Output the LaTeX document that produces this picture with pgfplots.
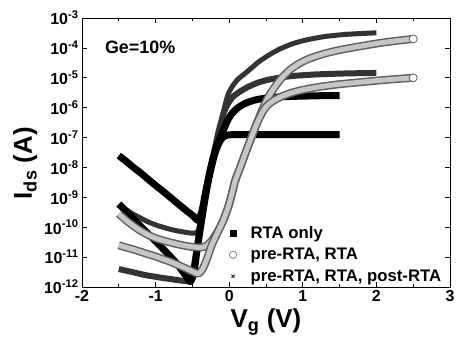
\documentclass[border=0pt]{standalone}
\usepackage{fontspec}
\setmainfont{Liberation Sans}
\usepackage{pgfplots}
\usepackage{pgfplotstable}
\pgfplotsset{compat=1.18}

% RTA only, lower curve
\pgfplotstableread{
x y
-1.5 6e-10
-1.4 3.4e-10
-1.3 1.9e-10
-1.2 1.05e-10
-1.1 6e-11
-1.0 3.4e-11
-0.9 1.9e-11
-0.8 1.05e-11
-0.7 5.5e-12
-0.6 2.6e-12
-0.53 1.5e-12
-0.48 3e-12
-0.44 1.5e-11
-0.39 1e-10
-0.34 6e-10
-0.29 3e-9
-0.24 1.1e-8
-0.19 3.2e-8
-0.14 6.5e-8
-0.09 1e-7
-0.03 1.2e-7
0.05 1.25e-7
0.3 1.25e-7
0.7 1.25e-7
1.1 1.25e-7
1.5 1.25e-7
}\SA
% RTA only, upper curve
\pgfplotstableread{
x y
-1.5 2.5e-8
-1.4 1.6e-8
-1.3 1.0e-8
-1.2 6.5e-9
-1.1 4.0e-9
-1.0 2.5e-9
-0.9 1.6e-9
-0.8 1.0e-9
-0.7 6.2e-10
-0.6 3.9e-10
-0.5 2.5e-10
-0.42 1.7e-10
-0.37 3.5e-10
-0.32 1.5e-9
-0.27 6e-9
-0.22 2e-8
-0.17 5e-8
-0.12 1e-7
-0.07 2e-7
-0.02 3.8e-7
0.04 6.5e-7
0.12 1e-6
0.22 1.4e-6
0.35 1.8e-6
0.5 2.1e-6
0.7 2.3e-6
0.9 2.4e-6
1.2 2.5e-6
1.5 2.55e-6
}\SB
% pre-RTA, RTA, post-RTA, upper
\pgfplotstableread{
x y
-1.5 5.5e-10
-1.4 3.8e-10
-1.3 2.7e-10
-1.2 2e-10
-1.1 1.5e-10
-1.0 1.2e-10
-0.9 1e-10
-0.8 8.5e-11
-0.7 7.5e-11
-0.6 6.8e-11
-0.5 6.3e-11
-0.43 7e-11
-0.38 1.8e-10
-0.33 8e-10
-0.28 3.5e-9
-0.23 1.4e-8
-0.18 5e-8
-0.13 1.8e-7
-0.09 5.5e-7
-0.05 1.4e-6
-0.01 3e-6
0.05 5.5e-6
0.12 9e-6
0.2 1.3e-5
0.28 1.9e-5
0.4 3.4e-5
0.55 6e-5
0.7 9.5e-5
0.87 1.4e-4
1.05 1.85e-4
1.3 2.4e-4
1.6 2.85e-4
2.0 3.2e-4
}\XA
% pre-RTA, RTA, post-RTA, lower
\pgfplotstableread{
x y
-1.5 4e-12
-1.4 3.5e-12
-1.3 3.1e-12
-1.2 2.7e-12
-1.1 2.4e-12
-1.0 2.2e-12
-0.9 2e-12
-0.8 1.85e-12
-0.7 1.7e-12
-0.6 1.6e-12
-0.53 1.7e-12
-0.48 5e-12
-0.43 3e-11
-0.38 1.8e-10
-0.33 9e-10
-0.28 4e-9
-0.23 1.7e-8
-0.18 6.5e-8
-0.13 2.2e-7
-0.08 6e-7
-0.03 1.2e-6
0.05 2.3e-6
0.15 3.5e-6
0.26 5e-6
0.4 7e-6
0.55 8.8e-6
0.73 1.05e-5
0.9 1.17e-5
1.2 1.3e-5
1.6 1.4e-5
2.0 1.45e-5
}\XB
% pre-RTA, RTA, upper
\pgfplotstableread{
x y
-1.5 2.8e-10
-1.4 1.7e-10
-1.3 1.1e-10
-1.2 7.5e-11
-1.1 5.5e-11
-1.0 4.3e-11
-0.9 3.6e-11
-0.8 3.1e-11
-0.7 2.7e-11
-0.6 2.4e-11
-0.5 2.2e-11
-0.4 2.1e-11
-0.32 2.3e-11
-0.24 3.5e-11
-0.16 7e-11
-0.08 1.7e-10
0.0 6e-10
0.08 3.5e-9
0.15 1e-8
0.22 3e-8
0.29 8.5e-8
0.37 2.8e-7
0.45 8.5e-7
0.52 2e-6
0.6 4.2e-6
0.7 9e-6
0.82 1.8e-5
0.95 3e-5
1.1 4.5e-5
1.3 6.5e-5
1.5 8.5e-5
1.75 1.1e-4
2.0 1.4e-4
2.25 1.7e-4
2.5 2e-4
}\OA
% pre-RTA, RTA, lower
\pgfplotstableread{
x y
-1.5 2.5e-11
-1.4 2.1e-11
-1.3 1.8e-11
-1.2 1.5e-11
-1.1 1.25e-11
-1.0 1.05e-11
-0.9 8.5e-12
-0.8 7e-12
-0.7 5.5e-12
-0.6 4.3e-12
-0.5 3.3e-12
-0.42 2.8e-12
-0.36 4e-12
-0.3 9e-12
-0.24 2.4e-11
-0.16 6.5e-11
-0.08 1.7e-10
0.0 6e-10
0.08 3.5e-9
0.15 1e-8
0.22 3e-8
0.29 8.5e-8
0.37 2.7e-7
0.45 7e-7
0.52 1.2e-6
0.6 1.7e-6
0.7 2.3e-6
0.82 3e-6
0.95 3.7e-6
1.1 4.4e-6
1.3 5.3e-6
1.5 6.1e-6
1.75 7e-6
2.0 8e-6
2.25 9e-6
2.5 1e-5
}\OB

\begin{document}
\begin{tikzpicture}
\begin{axis}[
  name=ax,
  scale only axis, width=368bp, height=269bp,
  xmin=-2, xmax=3, ymin=1e-12, ymax=1e-3,
  ymode=log, log basis y=10,
  xtick={-2,-1,0,1,2,3}, xticklabels={-2,-1,0,1,2,3},
  minor x tick num=1,
  ytickten={-12,...,-3},
  yticklabel={10\textsuperscript{\pgfmathparse{int(round(\tick))}\pgfmathresult}},
  tick align=inside,
  major tick length=5bp, minor tick length=2.5bp,
  every tick/.style={black, line width=0.7bp},
  axis line style={line width=0.9bp},
  tick label style={font=\bfseries\fontsize{16}{18}\selectfont},
  label style={font=\bfseries\fontsize{26}{28}\selectfont},
  xlabel={V\textsubscript{g} (V)},
  ylabel={I\textsubscript{ds} (A)},
  ylabel style={at={(ticklabel cs:0.46)}},
  legend style={draw=none, fill=none, at={(0.392,0.0)}, anchor=south west,
    font=\bfseries\fontsize{16.8}{18}\selectfont, row sep=4.5bp, column sep=12bp},
  legend cell align=left,
]
\addlegendimage{only marks, mark=square*, black, mark size=3.2bp}
\addlegendentry{RTA only}
\addlegendimage{only marks, mark=o, gray, mark size=3.6bp, line width=0.8bp}
\addlegendentry{pre-RTA, RTA}
\addlegendimage{only marks, mark=x, black!80, mark size=2.2bp, line width=1bp}
\addlegendentry{pre-RTA, RTA, post-RTA}

% pre-RTA, RTA, post-RTA
\addplot[forget plot, no marks, black!80, line width=5bp, smooth, tension=0.4, line join=round] table {\XA};
\addplot[forget plot, no marks, black!80, line width=6bp, smooth, tension=0.4, line join=round] table {\XB};
% RTA only
\addplot[forget plot, no marks, black, line width=7bp, smooth, tension=0.4, line join=round] table {\SA};
\addplot[forget plot, no marks, black, line width=7bp, smooth, tension=0.4, line join=round] table {\SB};
% pre-RTA, RTA
\addplot[forget plot, no marks, gray!75!black, line width=8bp, smooth, tension=0.4, line join=round] table {\OA};
\addplot[forget plot, gray!45, line width=5bp, smooth, tension=0.4, line join=round,
  mark=*, mark indices={35}, mark size=4bp, mark options={fill=white, draw=gray!75!black, line width=0.8bp}] table {\OA};
\addplot[forget plot, no marks, gray!75!black, line width=8bp, smooth, tension=0.4, line join=round] table {\OB};
\addplot[forget plot, gray!45, line width=5bp, smooth, tension=0.4, line join=round,
  mark=*, mark indices={36}, mark size=4bp, mark options={fill=white, draw=gray!75!black, line width=0.8bp}] table {\OB};

\node[font=\bfseries\fontsize{18}{20}\selectfont, anchor=west, inner sep=0pt] at (rel axis cs:0.062,0.892) {Ge=10\%};
\end{axis}
\pgfresetboundingbox
\path ([shift={(-82bp,-71bp)}]ax.south west) rectangle ([shift={(6bp,18bp)}]ax.north east);
\end{tikzpicture}
\end{document}
